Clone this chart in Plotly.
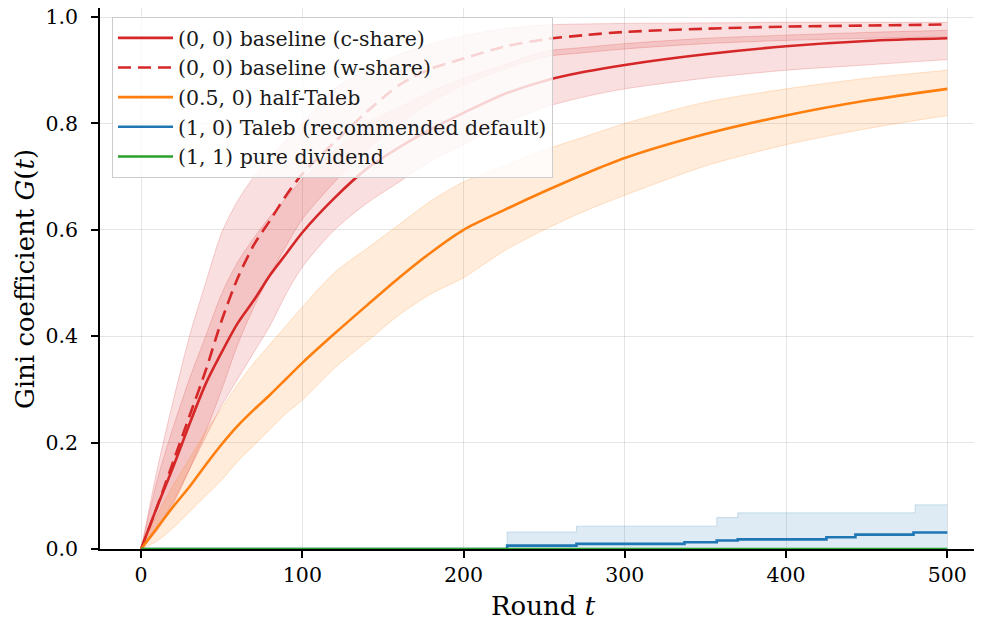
import plotly.graph_objects as go

# ---- data ----
rounds = [0, 10, 20, 30, 40, 50, 60, 70, 80, 90, 100, 120, 140, 160, 180, 200, 225, 250, 275, 300, 350, 400, 450, 500]

c_mean = [0, 0.08, 0.155, 0.235, 0.31, 0.37, 0.425, 0.468, 0.515, 0.555, 0.595, 0.66, 0.715, 0.755, 0.79, 0.82, 0.855, 0.88, 0.897, 0.91, 0.93, 0.945, 0.955, 0.96]
c_lo = [0, 0.04, 0.09, 0.15, 0.21, 0.27, 0.32, 0.37, 0.42, 0.48, 0.53, 0.60, 0.65, 0.69, 0.73, 0.76, 0.80, 0.83, 0.85, 0.865, 0.885, 0.90, 0.91, 0.92]
c_hi = [0, 0.13, 0.23, 0.32, 0.40, 0.48, 0.54, 0.585, 0.625, 0.66, 0.695, 0.75, 0.80, 0.83, 0.86, 0.885, 0.91, 0.935, 0.943, 0.95, 0.96, 0.966, 0.971, 0.975]

w_mean = [0, 0.08, 0.165, 0.25, 0.335, 0.43, 0.51, 0.572, 0.618, 0.665, 0.705, 0.765, 0.822, 0.872, 0.903, 0.922, 0.944, 0.958, 0.966, 0.972, 0.978, 0.982, 0.984, 0.986]
w_lo = [0, 0.035, 0.085, 0.15, 0.22, 0.30, 0.385, 0.455, 0.515, 0.57, 0.62, 0.69, 0.75, 0.80, 0.84, 0.872, 0.902, 0.925, 0.933, 0.94, 0.95, 0.956, 0.96, 0.963]
w_hi = [0, 0.15, 0.28, 0.40, 0.50, 0.595, 0.655, 0.70, 0.735, 0.77, 0.80, 0.865, 0.90, 0.93, 0.95, 0.965, 0.978, 0.985, 0.987, 0.988, 0.989, 0.99, 0.99, 0.99]

o_mean = [0, 0.04, 0.08, 0.117, 0.158, 0.197, 0.232, 0.262, 0.29, 0.32, 0.35, 0.405, 0.458, 0.51, 0.558, 0.60, 0.637, 0.672, 0.705, 0.735, 0.78, 0.815, 0.843, 0.865]
o_lo = [0, 0.015, 0.04, 0.07, 0.10, 0.13, 0.165, 0.195, 0.225, 0.255, 0.28, 0.34, 0.39, 0.44, 0.48, 0.51, 0.56, 0.60, 0.635, 0.665, 0.72, 0.76, 0.79, 0.815]
o_hi = [0, 0.065, 0.12, 0.17, 0.22, 0.265, 0.31, 0.35, 0.385, 0.42, 0.455, 0.52, 0.565, 0.61, 0.655, 0.69, 0.72, 0.75, 0.775, 0.80, 0.84, 0.865, 0.885, 0.90]

b_rounds = [0, 227, 270, 337, 357, 370, 425, 443, 479, 500]
b_mean = [0, 0.0064, 0.0096, 0.0128, 0.016, 0.018, 0.022, 0.027, 0.031, 0.031]
b_band_rounds = [0, 227, 270, 357, 370, 480, 500]
b_hi = [0, 0.032, 0.043, 0.059, 0.068, 0.083, 0.083]
b_lo = [0, 0, 0, 0, 0, 0, 0]

g_rounds = [0, 500]
g_mean = [0, 0]

labels = ["(0, 0) baseline (c-share)", "(0, 0) baseline (w-share)", "(0.5, 0) half-Taleb",
          "(1, 0) Taleb (recommended default)", "(1, 1) pure dividend"]
x_ticks = [0, 100, 200, 300, 400, 500]
y_ticks = [0, 0.2, 0.4, 0.6, 0.8, 1.0]
y_tick_text = ["0.0", "0.2", "0.4", "0.6", "0.8", "1.0"]

RED = (214, 39, 40)
ORANGE = (255, 127, 14)
BLUE = (31, 119, 180)
GREEN = (44, 160, 44)


def rgba(c, a):
    return f"rgba({c[0]},{c[1]},{c[2]},{a})"


def rgb(c):
    return f"rgb({c[0]},{c[1]},{c[2]})"


fig = go.Figure()


def add_band(x, lo, hi, col, shape="spline"):
    fig.add_trace(go.Scatter(x=x, y=lo, mode="lines",
                             line=dict(color=rgba(col, 0.2), width=1, shape=shape, smoothing=0.8),
                             showlegend=False, hoverinfo="skip"))
    fig.add_trace(go.Scatter(x=x, y=hi, mode="lines", fill="tonexty", fillcolor=rgba(col, 0.15),
                             line=dict(color=rgba(col, 0.2), width=1, shape=shape, smoothing=0.8),
                             showlegend=False, hoverinfo="skip"))


def add_line(x, y, col, name, dash="solid", shape="spline", grp="g"):
    fig.add_trace(go.Scatter(x=x, y=y, mode="lines", name=name, legendgroup=grp,
                             line=dict(color=rgb(col), width=2.6, dash=dash, shape=shape, smoothing=0.8)))


add_band(rounds, c_lo, c_hi, RED)
add_line(rounds, c_mean, RED, labels[0], grp="a")
add_band(rounds, w_lo, w_hi, RED)
add_line(rounds, w_mean, RED, labels[1], dash="13px,7px", grp="b")
add_band(rounds, o_lo, o_hi, ORANGE)
add_line(rounds, o_mean, ORANGE, labels[2], grp="c")
add_band(b_band_rounds, b_lo, b_hi, BLUE, shape="hv")
add_line(b_rounds, b_mean, BLUE, labels[3], shape="hv", grp="d")
add_line(g_rounds, g_mean, GREEN, labels[4], shape="linear", grp="e")

FONT = "DejaVu Serif"
OFF = 8  # page body margin offset
W, H = 982 - OFF, 621 - OFF
L, R, T, B = 100 - OFF, 0, 0, 621 - 549
PW, PH = W - L - R, H - T - B


def px_x(p):  # page px -> paper x
    return (p - OFF - L) / PW


def px_y(p):  # page px -> paper y
    return 1 - (p - OFF - T) / PH


fig.update_layout(
    width=W, height=H,
    margin=dict(l=L, r=R, t=T, b=B),
    paper_bgcolor="white", plot_bgcolor="white",
    font=dict(family=FONT, color="black", size=20),
    showlegend=True,
    legend=dict(x=px_x(112), y=px_y(17), xanchor="left", yanchor="top",
                bgcolor="rgba(255,255,255,0.8)", bordercolor="#cccccc", borderwidth=1,
                font=dict(family=FONT, size=20.5, color="#1a1a1a"), tracegroupgap=7,
                itemwidth=55, traceorder="normal"),
    annotations=[
        dict(text="Round <i>t</i>", xref="paper", yref="paper", x=px_x(543.5), y=px_y(606),
             xanchor="center", yanchor="middle", showarrow=False, font=dict(family=FONT, size=26)),
        dict(text="Gini coefficient <i>G</i>(<i>t</i>)", xref="paper", yref="paper",
             x=px_x(25), y=px_y(279), textangle=-90,
             xanchor="center", yanchor="middle", showarrow=False, font=dict(family=FONT, size=26)),
    ],
)

fig.update_xaxes(
    range=[-25.5, 521.5], tickvals=x_ticks, automargin=False,
    showgrid=True, gridcolor="rgba(0,0,0,0.1)", gridwidth=1.2, zeroline=False,
    showline=True, linecolor="black", linewidth=1.6, ticks="outside", ticklen=7, tickwidth=1.5,
    tickcolor="black", tickfont=dict(family=FONT, size=20.5), ticklabelstandoff=0,
    ticklabeloverflow="allow",
)
fig.update_yaxes(
    range=[0, 1.017], tickvals=y_ticks, ticktext=y_tick_text, automargin=False,
    showgrid=True, gridcolor="rgba(0,0,0,0.1)", gridwidth=1.2, zeroline=False,
    showline=True, linecolor="black", linewidth=1.6, ticks="outside", ticklen=7, tickwidth=1.5,
    tickcolor="black", tickfont=dict(family=FONT, size=20.5), ticklabelstandoff=9,
    ticklabeloverflow="allow",
)

fig.write_html("out.html")
